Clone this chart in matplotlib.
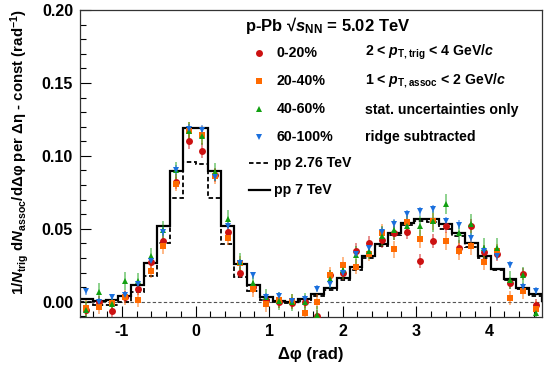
"""
p-Pb dihadron correlation (ridge subtracted) vs pp reference, ALICE style
"""

import matplotlib.pyplot as plt
import numpy as np
from matplotlib.lines import Line2D
from matplotlib.ticker import FormatStrFormatter, MultipleLocator

plt.rcParams["font.family"] = ["Liberation Sans", "DejaVu Sans"]
plt.rcParams["font.weight"] = "bold"
plt.rcParams["axes.unicode_minus"] = False
plt.rcParams["mathtext.fontset"] = "custom"
plt.rcParams["mathtext.rm"] = "Liberation Sans:bold"
plt.rcParams["mathtext.bf"] = "Liberation Sans:bold"
plt.rcParams["mathtext.it"] = "Liberation Sans:bold:italic"

# 36 bins in delta phi from -pi/2 to 3pi/2
n_bins = 36

# pp reference histograms
pp7 = [0.002, 0.0005, 0.001, 0.0036, 0.0115, 0.0265, 0.0516, 0.0897, 0.1194,
       0.119, 0.0897, 0.0516, 0.0258, 0.0114, 0.003, 0.0008, 0.0, 0.002,
       0.0053, 0.0092, 0.016, 0.0235, 0.0315, 0.0393, 0.047, 0.0539,
       0.0566, 0.0566, 0.0535, 0.047, 0.040, 0.0315, 0.0222, 0.0153,
       0.0094, 0.0052]
pp276 = [-0.0005, -0.002, -0.002, -0.0005, 0.0064, 0.0174, 0.0402, 0.071,
         0.0957, 0.0945, 0.071, 0.0397, 0.0169, 0.0071, 0.001, -0.0005,
         -0.001, 0.0008, 0.004, 0.0078, 0.0148, 0.022, 0.030, 0.038,
         0.0458, 0.0525, 0.055, 0.0545, 0.050, 0.045, 0.0378, 0.030,
         0.0218, 0.0148, 0.009, 0.0038]

# p-Pb multiplicity classes
red_0_20 = [-0.006, 0.0, -0.0063, 0.003, 0.0085, 0.027, 0.0413, 0.0824,
            0.110, 0.1035, 0.087, 0.048, 0.020, 0.010, 0.0014, -0.0005,
            -0.001, 0.0, -0.010, 0.018, 0.0196, 0.035, 0.040, 0.042, 0.047,
            0.048, 0.028, 0.0415, 0.052, 0.037, 0.052, 0.034, 0.033, 0.0125,
            0.019, -0.0025]
red_err = [0.004, 0.004, 0.004, 0.004, 0.004, 0.005, 0.005, 0.005, 0.005,
           0.005, 0.005, 0.005, 0.004, 0.004, 0.004, 0.004, 0.004, 0.004,
           0.004, 0.004, 0.005, 0.005, 0.005, 0.005, 0.005, 0.005, 0.005,
           0.005, 0.005, 0.005, 0.005, 0.005, 0.005, 0.004, 0.004, 0.004]

orange_20_40 = [-0.004, -0.0036, -0.001, 0.003, 0.0014, 0.021, 0.038, 0.0808,
                0.117, 0.1144, 0.086, 0.0436, 0.0265, 0.0085, -0.0018, 0.001,
                0.0005, -0.0075, 0.0, 0.0185, 0.0253, 0.024, 0.033, 0.047,
                0.0358, 0.0545, 0.043, 0.055, 0.0415, 0.0345, 0.038, 0.027,
                0.0345, 0.0025, 0.007, -0.0048]
orange_err = [0.005, 0.005, 0.005, 0.005, 0.005, 0.005, 0.005, 0.005, 0.006,
              0.006, 0.005, 0.005, 0.005, 0.005, 0.005, 0.005, 0.005, 0.005,
              0.005, 0.005, 0.005, 0.005, 0.005, 0.006, 0.006, 0.006, 0.006,
              0.006, 0.006, 0.006, 0.006, 0.005, 0.005, 0.005, 0.005, 0.005]

green_40_60 = [-0.0055, 0.0068, -0.0017, 0.0142, 0.014, 0.031, 0.049, 0.090,
               0.117, 0.1137, 0.089, 0.0566, 0.0274, 0.013, 0.003, 0.0005,
               -0.0005, 0.0, -0.009, 0.0155, 0.0215, 0.032, 0.035, 0.045,
               0.049, 0.052, 0.052, 0.055, 0.067, 0.047, 0.053, 0.037,
               0.0368, 0.015, 0.018, -0.0075]
green_err = [0.006, 0.006, 0.006, 0.006, 0.006, 0.006, 0.006, 0.006, 0.006,
             0.006, 0.006, 0.006, 0.006, 0.006, 0.006, 0.006, 0.006, 0.006,
             0.006, 0.006, 0.006, 0.006, 0.006, 0.007, 0.007, 0.007, 0.007,
             0.007, 0.007, 0.007, 0.007, 0.007, 0.007, 0.006, 0.006, 0.006]

blue_60_100 = [0.0072, -0.0003, 0.003, 0.0045, 0.0123, 0.028, 0.048, 0.0904,
               0.1185, 0.118, 0.0855, 0.052, 0.0265, 0.018, 0.0032, 0.0038,
               0.0003, 0.0018, 0.0088, 0.012, 0.020, 0.033, 0.037, 0.048,
               0.0535, 0.060, 0.062, 0.0635, 0.055, 0.0527, 0.044, 0.035,
               0.031, 0.0253, 0.010, 0.0076]
blue_err = [0.0025, 0.0025, 0.0025, 0.0025, 0.0025, 0.0025, 0.003, 0.003,
            0.003, 0.003, 0.003, 0.003, 0.0025, 0.0025, 0.0025, 0.0025,
            0.0025, 0.0025, 0.0025, 0.0025, 0.0025, 0.003, 0.003, 0.003,
            0.003, 0.003, 0.003, 0.003, 0.003, 0.003, 0.003, 0.003, 0.0025,
            0.0025, 0.0025, 0.0025]

series = [
    ("0-20%", red_0_20, red_err, "o", "#cc1111"),
    ("20-40%", orange_20_40, orange_err, "s", "#ff6a00"),
    ("40-60%", green_40_60, green_err, "^", "#11a011"),
    ("60-100%", blue_60_100, blue_err, "v", "#1a6fdd"),
]

edges = np.linspace(-np.pi / 2, 3 * np.pi / 2, n_bins + 1)
centers = 0.5 * (edges[:-1] + edges[1:])

W, H = 547, 372
fig = plt.figure(figsize=(W / 100, H / 100), dpi=100)
ax = fig.add_axes([80 / W, 1 - 317 / H, 462 / W, 307 / H])

ax.axhline(0, color="#555555", lw=0.8, ls=(0, (3, 2)), zorder=1)
ax.stairs(pp276, edges, color="black", lw=1.3, ls=(0, (2.5, 1.5)), zorder=2)
ax.stairs(pp7, edges, color="black", lw=1.6, zorder=2)

for label, vals, errs, marker, color in series:
    ax.errorbar(centers, vals, yerr=errs, fmt=marker, color=color, ms=5,
                mew=0, ecolor=color + "99", elinewidth=1.1, capsize=0,
                zorder=3)

ax.set_xlim(-np.pi / 2, 3 * np.pi / 2)
ax.set_ylim(-0.0105, 0.20)
ax.xaxis.set_major_locator(MultipleLocator(1))
ax.xaxis.set_minor_locator(MultipleLocator(0.2))
ax.yaxis.set_major_locator(MultipleLocator(0.05))
ax.yaxis.set_minor_locator(MultipleLocator(0.01))
ax.yaxis.set_major_formatter(FormatStrFormatter("%.2f"))
ax.tick_params(which="both", direction="in", top=False, right=False,
               labelsize=11.5, width=0.8)
ax.tick_params(which="major", length=8, pad=5)
ax.tick_params(which="minor", length=4)
for sp in ax.spines.values():
    sp.set_linewidth(0.9)
    sp.set_color("#333333")

ax.set_xlabel("Δφ (rad)", fontsize=12, fontweight="bold", labelpad=6)
fig.text(20 / W, 1 - 152 / H,
         r"1/$N_{\rm trig}$ d$N_{\rm assoc}$/dΔφ per Δη - const (rad$^{-1}$)",
         rotation=90, ha="center", va="center", fontsize=10.8)


def fx(px):
    return px / W


def fy(py):
    return 1 - py / H


fig.text(fx(245), fy(25), r"p-Pb √$s_{\rm NN}$ = 5.02 TeV", fontsize=12,
         ha="left", va="center")

leg_y = [53, 81, 109, 137]
for (label, vals, errs, marker, color), y in zip(series, leg_y):
    fig.add_artist(Line2D([fx(259)], [fy(y)], marker=marker, color=color,
                          ms=5, mew=0, ls="none"))
    fig.text(fx(277), fy(y), label, fontsize=10.2, ha="left", va="center")

fig.add_artist(Line2D([fx(249), fx(270)], [fy(163), fy(163)], color="black",
                      lw=1.3, ls=(0, (2.5, 1.5))))
fig.text(fx(274), fy(163), "pp 2.76 TeV", fontsize=10.2, ha="left",
         va="center")
fig.add_artist(Line2D([fx(249), fx(270)], [fy(190), fy(190)], color="black",
                      lw=1.6))
fig.text(fx(274), fy(190), "pp 7 TeV", fontsize=10.2, ha="left", va="center")

right_text = [
    r"2 < $p_{\rm T,trig}$ < 4 GeV/$c$",
    r"1 < $p_{\rm T,assoc}$ < 2 GeV/$c$",
    "stat. uncertainties only",
    "ridge subtracted",
]
for txt, y in zip(right_text, [52, 81, 110, 137]):
    fig.text(fx(365), fy(y), txt, fontsize=10.2, ha="left", va="center")

fig.savefig("out.png", dpi=100)
